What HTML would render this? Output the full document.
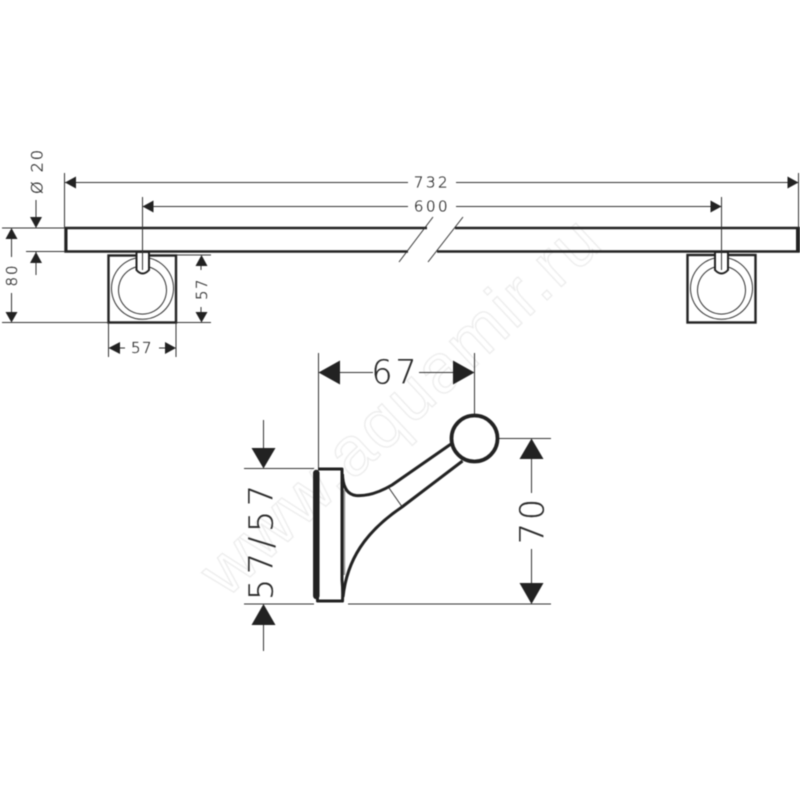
<!DOCTYPE html>
<html><head><meta charset="utf-8"><style>
html,body{margin:0;padding:0;background:#fff;width:800px;height:800px;overflow:hidden}
svg{display:block}
text{font-family:"DejaVu Sans","Liberation Sans",sans-serif;fill:#2a2a2a;stroke:#2a2a2a;stroke-width:.3;text-anchor:middle;dominant-baseline:central;font-weight:200}
text.wm{font-family:"Liberation Sans",sans-serif;font-size:69px;font-weight:400;fill:#fff;stroke:#ececec;stroke-width:1.3;letter-spacing:2px}
.t{stroke:#333;stroke-width:1;fill:none}
.m{stroke:#222;stroke-width:2.4;fill:none}
.h{stroke:#222;stroke-width:3;fill:none}
.a{fill:#222;stroke:none}
</style></head><body>
<svg width="800" height="800" viewBox="0 0 800 800" xmlns="http://www.w3.org/2000/svg">
<g style="filter:blur(.45px)">
<text class="wm" x="400" y="405" transform="rotate(-43 400 405)">www.aquamir.ru</text>

<!-- bar -->
<path class="m" d="M427 228H65.500V251.500H408M455 228H798.500V251.500H437"/>
<path class="a" d="M64.500 227H67.500V252.500H64.500ZM796 227H800V252.500H796Z"/>
<path class="t" d="M433 217L399 262M463 217L428 262"/>

<!-- left bracket -->
<rect class="m" x="108.500" y="255.500" width="67.500" height="67"/>
<path class="t" d="M136 258A31 31 0 1 0 149 258"/>
<path class="t" d="M136 267A24 24 0 1 0 149 267"/>
<path d="M136.500 252V270Q142.500 277 149 270V252Z" fill="#fff" stroke="#222" stroke-width="2"/>

<!-- right bracket -->
<rect class="m" x="687.500" y="255" width="68" height="67.500"/>
<path class="t" d="M715 258A31 31 0 1 0 728 258"/>
<path class="t" d="M715 267A24 24 0 1 0 728 267"/>
<path d="M715 252V270Q721.500 277 728 270V252Z" fill="#fff" stroke="#222" stroke-width="2"/>

<!-- extension lines top -->
<path class="t" d="M64.500 173V228M798.500 173V228M142.500 197V270M721.500 197V270"/>
<!-- 732 -->
<path class="t" d="M65 182.500H408M456 182.500H798"/>
<path class="a" d="M65 182.500L76 176.500V188.500ZM798.500 182.500L787.500 176.500V188.500Z"/>
<text x="432" y="182.500" font-size="15" letter-spacing="2.500">732</text>
<!-- 600 -->
<path class="t" d="M143 206.500H408M456 206.500H721"/>
<path class="a" d="M142.500 206.500L153.500 200.500V212.500ZM721.500 206.500L710.500 200.500V212.500Z"/>
<text x="432" y="206.500" font-size="15" letter-spacing="2.500">600</text>

<!-- left dims -->
<path class="t" d="M2 228H65M26 251.500H65M2 322.500H108"/>
<path class="t" d="M11.500 232V257M11.500 293V318"/>
<path class="a" d="M11.500 228L5.500 239H17.500ZM11.500 322.500L5.500 312H17.500Z"/>
<text transform="translate(12 275) rotate(-90)" font-size="15" letter-spacing="2">80</text>
<path class="t" d="M36 200V224M36 252V275"/>
<path class="a" d="M36 228L30 217H42ZM36 252L30 263H42Z"/>
<text transform="translate(37 171) rotate(-90)" font-size="16" letter-spacing="2">Ø 20</text>

<!-- 57 bottom -->
<path class="t" d="M108.500 322V357M176 322V357M112 348H125M159 348H172"/>
<path class="a" d="M108.500 348L120 342V354ZM176 348L165 342V354Z"/>
<text x="142" y="348" font-size="15" letter-spacing="1.500">57</text>
<!-- 57 right -->
<path class="t" d="M177 255H211M177 322.500H211M201 260V270M201 307V318"/>
<path class="a" d="M201.500 255L195.500 266H207.500ZM201.500 322.500L195.500 312H207.500Z"/>
<text transform="translate(202 289) rotate(-90)" font-size="15" letter-spacing="1.500">57</text>

<!-- hook side view -->
<path class="t" d="M318.500 353V468M474.500 353V414"/>
<path class="t" d="M335 372.500H373M419 372.500H458"/>
<path class="a" d="M318.500 372.500L340 360.500V384.500ZM474.500 372.500L453 360.500V384.500Z"/>
<text x="395.500" y="372" font-size="33" letter-spacing="3">67</text>

<path class="t" d="M499 438.500H551M348 604H551" stroke-width="1.200"/>
<path class="t" d="M531.500 455V493M531.500 549V588" stroke-width="1.200"/>
<path class="a" d="M531.500 438.500L519.500 459H543.500ZM531.500 604L519.500 583H543.500Z"/>
<text transform="translate(532 520) rotate(-90)" font-size="33" letter-spacing="3">70</text>

<path class="t" d="M244 468.500H314M244 604H314" stroke-width="1.200"/>
<path class="t" d="M263.500 420V450M263.500 622V651" stroke-width="1.200"/>
<path class="a" d="M263.500 468.500L251.500 448H275.500ZM263.500 604L251.500 625H275.500Z"/>
<text transform="translate(261 540) rotate(-90)" font-size="33" letter-spacing="5">57/57</text>

<!-- hook shape -->
<path d="M344.200 490V575" stroke="#999" stroke-width="2" fill="none"/>
<path d="M316.300 473V596" stroke="#222" stroke-width="6.500" stroke-linecap="round" fill="none"/>
<path class="h" d="M317.500 597V601H342.500Q343 590 342 580V490Q342 480 342 469H318" stroke-width="3.500" stroke-linejoin="round"/>
<path class="h" d="M342.500 474Q343 494 356 495.500C368 496.500 380 492 392 485L451 444" stroke-width="4"/>
<path class="h" d="M343 597C347 560 365 532 402 507L462.500 461" stroke-width="3.600"/>
<path class="t" d="M389 488L401.500 506" stroke-width="1.200"/>
<circle cx="474.500" cy="438.500" r="23" fill="#fff" stroke="#222" stroke-width="3.800"/>
</g>
</svg>
</body></html>
